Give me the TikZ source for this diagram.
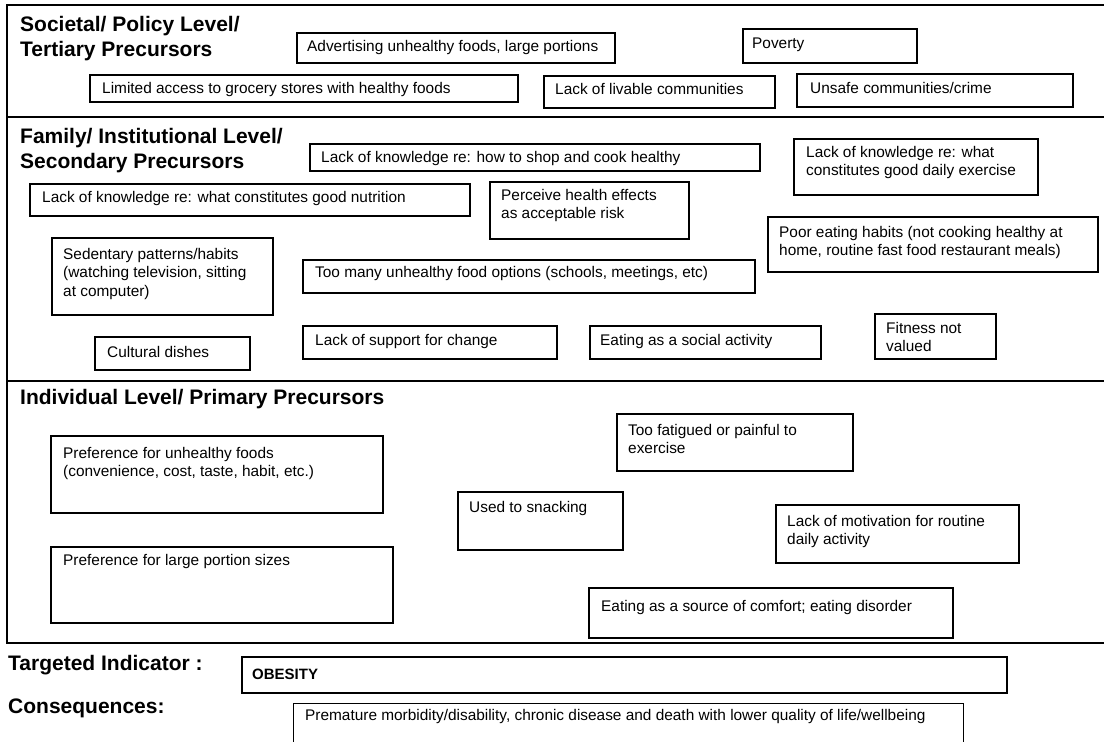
\documentclass[tikz,border=0pt]{standalone}
\usepackage{fontspec}
\setmainfont{Liberation Sans}
\tikzset{
  box/.style={draw, line width=1.5pt, inner sep=0pt, anchor=north west},
  thinbox/.style={draw, line width=1.1pt, inner sep=0pt, anchor=north west},
  txt/.style={anchor=north west, inner sep=0pt, align=left, font=\fontsize{15.4}{18.5}\selectfont},
  ttl/.style={anchor=north west, inner sep=0pt, align=left, font=\fontsize{21}{25}\selectfont\bfseries},
  frame/.style={line width=1.5pt},
}
% name, x1, y1, x2, y2, text x, first baseline, text
\newcommand\bx[8]{%
  \node[box, minimum width={(#4-#2)*1pt}, minimum height={(#5-#3)*1pt}] (#1) at (#2,#3) {};
  \node[txt] (#1-t) at (#6,#7-11.5) {\rule{0pt}{11.5pt}#8};
}
\begin{document}
\begin{tikzpicture}[x=1pt,y=-1pt]
\useasboundingbox (0,0) rectangle (1104,742);
\fill[white] (0,0) rectangle (1104,742);
% frame
\draw[frame] (1110,5) -- (7,5) -- (7,643) -- (1110,643);
\draw[frame] (7,117) -- (1110,117);
\draw[frame] (7,381) -- (1110,381);
% titles
\node[ttl] (t1) at (20,31-16) {\rule{0pt}{16pt}Societal/ Policy Level/\\Tertiary Precursors};
\node[ttl] (t2) at (20,143-16) {\rule{0pt}{16pt}Family/ Institutional Level/\\Secondary Precursors};
\node[ttl] (t3) at (20,404-16) {\rule{0pt}{16pt}Individual Level/ Primary Precursors};
% societal
\bx{adv}{296}{32}{614}{62}{307}{51}{Advertising unhealthy foods, large portions}
\bx{pov}{742}{28}{916}{62}{752}{48}{Poverty}
\bx{lim}{89}{74}{517}{101}{102}{93}{Limited access to grocery stores with healthy foods}
\bx{liv}{543}{75}{774}{107}{555}{94}{Lack of livable communities}
\bx{uns}{796}{73}{1072}{106}{810}{93}{Unsafe communities/crime}
% family
\bx{shop}{309}{143}{759}{170}{321}{162}{Lack of knowledge re: how to shop and cook healthy}
\bx{exer}{793}{138}{1037}{194}{806}{157}{Lack of knowledge re: what\\constitutes good daily exercise}
\bx{nutr}{29}{183}{469}{215}{42}{202}{Lack of knowledge re: what constitutes good nutrition}
\bx{perc}{489}{181}{688}{238}{501}{200}{Perceive health effects\\as acceptable risk}
\bx{poor}{767}{216}{1097}{271}{779}{237}{Poor eating habits (not cooking healthy at\\home, routine fast food restaurant meals)}
\bx{sed}{51}{237}{272}{314}{63}{259}{Sedentary patterns/habits\\(watching television, sitting\\at computer)}
\bx{many}{302}{259}{754}{292}{315}{277}{Too many unhealthy food options (schools, meetings, etc)}
\bx{cult}{94}{336}{249}{369}{107}{357}{Cultural dishes}
\bx{supp}{302}{325}{556}{358}{315}{345}{Lack of support for change}
\bx{soc}{589}{325}{820}{358}{600}{345}{Eating as a social activity}
\bx{fit}{874}{313}{995}{358}{886}{333}{Fitness not\\valued}
% individual
\bx{pun}{50}{435}{382}{512}{63}{458}{Preference for unhealthy foods\\(convenience, cost, taste, habit, etc.)}
\bx{snack}{457}{491}{622}{549}{469}{512}{Used to snacking}
\bx{fat}{616}{413}{852}{470}{628}{435}{Too fatigued or painful to\\exercise}
\bx{mot}{775}{504}{1018}{562}{787}{526}{Lack of motivation for routine\\daily activity}
\bx{plp}{50}{546}{392}{622}{63}{565}{Preference for large portion sizes}
\bx{comf}{588}{587}{952}{637}{601}{611}{Eating as a source of comfort; eating disorder}
% bottom
\node[ttl] (ti) at (8,670-16) {\rule{0pt}{16pt}Targeted Indicator :};
\node[ttl] (co) at (8,713-16) {\rule{0pt}{16pt}Consequences:};
\node[box, minimum width=765pt, minimum height=36pt] (ob) at (241,656) {};
\node[txt, font=\fontsize{15}{18}\selectfont\bfseries] (ob-t) at (252,679-11.5) {\rule{0pt}{11.5pt}OBESITY};
\node[thinbox, minimum width=670pt, minimum height=45pt] (cons) at (293,703) {};
\node[txt] (cons-t) at (305,720-11.5) {\rule{0pt}{11.5pt}Premature morbidity/disability, chronic disease and death with lower quality of life/wellbeing};
\end{tikzpicture}
\end{document}
